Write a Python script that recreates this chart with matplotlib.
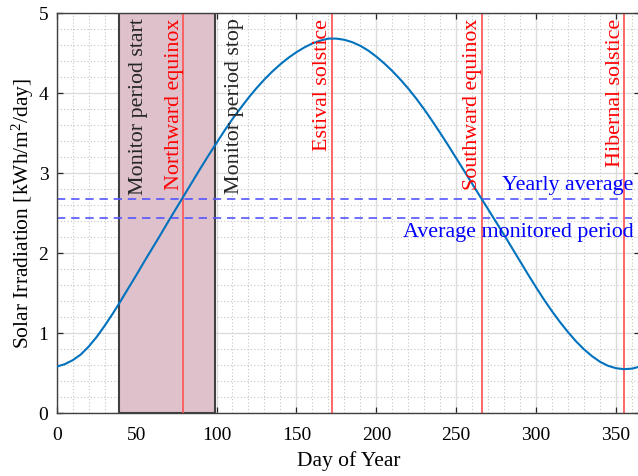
import matplotlib
matplotlib.use('Agg')
import matplotlib.pyplot as plt
from matplotlib.ticker import MultipleLocator

plt.rcParams['font.family'] = ['Liberation Serif', 'DejaVu Serif']
plt.rcParams['mathtext.fontset'] = 'custom'
plt.rcParams['mathtext.rm'] = 'Liberation Serif'
plt.rcParams['mathtext.it'] = 'Liberation Serif:italic'

# irradiation, every 5 days
days = list(range(0, 366, 5))
irradiation = [0.58, 0.61, 0.66, 0.73, 0.83, 0.95, 1.09, 1.24, 1.40, 1.565,
               1.73, 1.90, 2.065, 2.23, 2.40, 2.565, 2.73, 2.895, 3.06, 3.22,
               3.375, 3.53, 3.675, 3.81, 3.94, 4.06, 4.17, 4.27, 4.36, 4.44,
               4.51, 4.57, 4.62, 4.655, 4.68, 4.68, 4.665, 4.635, 4.59, 4.53,
               4.455, 4.37, 4.275, 4.17, 4.055, 3.93, 3.795, 3.65, 3.50, 3.345,
               3.185, 3.025, 2.865, 2.705, 2.545, 2.385, 2.225, 2.06, 1.895, 1.73,
               1.57, 1.415, 1.27, 1.135, 1.01, 0.895, 0.795, 0.71, 0.64, 0.59,
               0.56, 0.548, 0.555, 0.58]

monitor_start = 39
monitor_stop = 99
yearly_avg = 2.67
monitored_avg = 2.44

events = ['Northward equinox', 'Estival solstice', 'Southward equinox', 'Hibernal solstice']
event_days = [79, 172, 266, 355]

fig = plt.figure(figsize=(6.38, 4.76), dpi=100)
ax = fig.add_axes([56.7 / 638, 63 / 476, (640 - 56.7) / 638, 400 / 476])

ax.set_xlim(0, 365)
ax.set_ylim(0, 5)
ax.xaxis.set_major_locator(MultipleLocator(50))
ax.xaxis.set_minor_locator(MultipleLocator(10))
ax.yaxis.set_major_locator(MultipleLocator(1))
ax.yaxis.set_minor_locator(MultipleLocator(0.2))
ax.set_axisbelow(True)
ax.grid(True, which='major', color='#dcdcdc', linewidth=1.0)
ax.grid(True, which='minor', color='#c4c4c4', linestyle=(0, (1, 2)), linewidth=0.8)

ax.tick_params(which='major', direction='in', length=4.5, width=0.9, top=True, right=True,
               labelsize=14, color='#262626')
ax.tick_params(axis='x', pad=10)
ax.tick_params(axis='y', pad=6)
ax.tick_params(which='minor', length=0)
for s in ax.spines.values():
    s.set_color('#404040')
    s.set_linewidth(1.0)

# monitored period
ax.axvspan(monitor_start, monitor_stop, facecolor='#dec1cb', edgecolor='#404040',
           linewidth=1.5, zorder=1)

ax.plot(days, irradiation, color='#0072bd', linewidth=1.5, zorder=3)

ax.axhline(yearly_avg, color='#5555ff', linestyle=(0, (5, 3.5)), linewidth=1.2, zorder=2)
ax.axhline(monitored_avg, color='#5555ff', linestyle=(0, (5, 3.5)), linewidth=1.2, zorder=2)

for name, d in zip(events, event_days):
    ax.axvline(d, color='#ff5a5a', linewidth=1.3, zorder=2)
    ax.annotate(name, xy=(d, 1), xycoords=('data', 'axes fraction'),
                xytext=(0.5, -4), textcoords='offset points', rotation=90,
                ha='right', va='top', color='red', fontsize=15.8, zorder=4)

for name, d in [('Monitor period start', monitor_start), ('Monitor period stop', monitor_stop)]:
    ax.annotate(name, xy=(d, 1), xycoords=('data', 'axes fraction'),
                xytext=(7.5, -4), textcoords='offset points', rotation=90,
                ha='left', va='top', color='#262626', fontsize=15.8, zorder=4)

ax.annotate('Yearly average', xy=(1, yearly_avg), xycoords=('axes fraction', 'data'),
            xytext=(-4.5, 3), textcoords='offset points', ha='right', va='bottom',
            color='#0000ff', fontsize=15.8, zorder=4)
ax.annotate('Average monitored period', xy=(1, monitored_avg), xycoords=('axes fraction', 'data'),
            xytext=(-4.5, -4), textcoords='offset points', ha='right', va='top',
            color='#0000ff', fontsize=15.8, zorder=4)

ax.set_xlabel('Day of Year', fontsize=15.5, labelpad=5)
ax.set_ylabel('Solar Irradiation [kWh/m$^2$/day]', fontsize=15.5, labelpad=2)

fig.savefig('out.png', dpi=100)
